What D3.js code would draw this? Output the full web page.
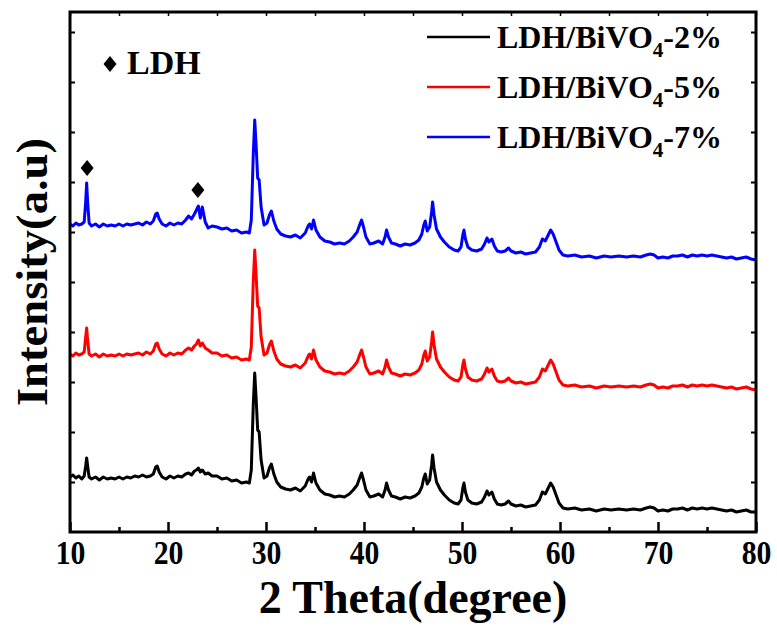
<!DOCTYPE html>
<html>
<head>
<meta charset="utf-8">
<script src="https://cdn.jsdelivr.net/npm/d3@7"></script>
<style>
  body { margin: 0; background: #fff; }
  text { font-family: "Liberation Serif", "Times New Roman", serif; font-weight: bold; fill: #000; }
</style>
</head>
<body>
<script>

// 2 theta positions (degree), shared by the three patterns
const twoTheta = [
  10.0, 10.3, 10.6, 10.9, 11.2, 11.45, 11.6, 11.7, 11.8, 11.95,
  12.2, 12.6, 13.0, 13.4, 13.8, 14.2, 14.6, 15.0, 15.4, 15.8,
  16.2, 16.6, 17.0, 17.4, 17.8, 18.2, 18.5, 18.75, 18.9, 19.1,
  19.4, 19.8, 20.2, 20.6, 21.0, 21.4, 21.8, 22.1, 22.4, 22.7,
  22.9, 23.1, 23.3, 23.5, 23.8, 24.1, 24.5, 25.0, 25.5, 26.0,
  26.5, 27.0, 27.5, 28.0, 28.3, 28.5, 28.7, 28.85, 29.0, 29.15,
  29.3, 29.5, 29.8, 30.1, 30.35, 30.55, 30.8, 31.1, 31.5, 32.0,
  32.5, 33.0, 33.5, 34.0, 34.3, 34.45, 34.65, 34.85, 35.1, 35.5,
  36.0, 36.5, 37.0, 37.5, 38.0, 38.5, 38.9, 39.3, 39.55, 39.75,
  39.95, 40.2, 40.6, 41.0, 41.5, 41.9, 42.15, 42.3, 42.5, 42.8,
  43.2, 43.7, 44.2, 44.7, 45.2, 45.6, 45.9, 46.1, 46.25, 46.45,
  46.7, 46.9, 47.0, 47.15, 47.4, 47.8, 48.2, 48.7, 49.2, 49.6,
  49.9, 50.1, 50.2, 50.35, 50.6, 51.0, 51.5, 52.0, 52.3, 52.55,
  52.75, 53.05, 53.3, 53.6, 54.0, 54.4, 54.75, 55.0, 55.5, 56.0,
  56.5, 57.0, 57.5, 57.9, 58.2, 58.5, 58.8, 59.05, 59.3, 59.6,
  59.9, 60.3, 60.8, 61.5, 62.2, 63.0, 63.7, 64.5, 65.2, 66.0,
  66.8, 67.5, 68.2, 68.8, 69.2, 69.6, 70.0, 70.5, 71.0, 71.5,
  72.0, 72.5, 73.0, 73.5, 74.0, 74.5, 75.0, 75.5, 76.0, 76.5,
  77.0, 77.5, 78.0, 78.5, 79.0, 79.5, 80.0
];

// intensity (a.u, already stacked)
const ldh2 = [
  55, 57, 54, 56, 53, 56, 66, 74, 66, 55,
  53, 55, 52, 55, 53, 54, 53, 55, 53, 55,
  54, 56, 55, 57, 55, 56, 58, 65, 66, 60,
  55, 53, 56, 54, 56, 55, 58, 59, 57, 61,
  62, 64, 60, 62, 58, 59, 56, 56, 53, 54,
  51, 52, 49, 50, 49, 62, 127, 159, 132, 102,
  100, 72, 54, 56, 64, 68, 58, 50, 45, 43,
  42, 44, 41, 46, 53, 55, 50, 59, 49, 42,
  38, 37, 35, 36, 35, 38, 42, 47, 54, 59,
  52, 42, 35, 36, 38, 35, 42, 49, 42, 36,
  35, 33, 35, 34, 36, 39, 45, 54, 58, 48,
  52, 67, 77, 64, 50, 42, 37, 32, 29, 28,
  32, 45, 49, 40, 32, 29, 28, 30, 35, 41,
  37, 40, 33, 28, 27, 28, 31, 28, 26, 27,
  25, 26, 27, 32, 40, 38, 44, 49, 45, 37,
  29, 24, 23, 24, 22, 23, 21, 23, 22, 23,
  22, 23, 22, 24, 25, 24, 21, 22, 21, 23,
  23, 24, 22, 24, 23, 24, 23, 24, 23, 22,
  21, 22, 20, 21, 22, 20, 20
];

const ldh5 = [
  178, 176, 179, 177, 178, 180, 195, 204, 192, 178,
  176, 178, 175, 178, 176, 177, 176, 178, 176, 178,
  177, 178, 179, 177, 180, 178, 181, 188, 189, 183,
  178, 176, 179, 177, 179, 178, 182, 184, 182, 186,
  188, 192, 186, 189, 184, 182, 179, 179, 176, 177,
  174, 175, 172, 173, 172, 185, 250, 282, 255, 226,
  224, 195, 177, 179, 187, 191, 181, 173, 168, 166,
  165, 167, 164, 169, 176, 178, 173, 182, 172, 165,
  161, 160, 158, 159, 158, 161, 165, 170, 177, 182,
  175, 165, 158, 159, 161, 158, 165, 172, 165, 159,
  158, 156, 158, 157, 159, 162, 168, 177, 181, 171,
  175, 190, 200, 187, 173, 165, 160, 155, 152, 151,
  155, 168, 172, 163, 155, 152, 151, 153, 158, 164,
  160, 163, 156, 151, 150, 151, 154, 151, 149, 150,
  148, 149, 150, 155, 163, 161, 167, 172, 168, 160,
  152, 147, 146, 147, 145, 146, 144, 146, 145, 146,
  145, 146, 145, 147, 148, 147, 144, 145, 144, 146,
  146, 147, 145, 147, 146, 147, 146, 147, 146, 145,
  144, 145, 143, 144, 145, 143, 142
];

const ldh7 = [
  308, 306, 309, 307, 308, 310, 330, 349, 330, 309,
  306, 308, 305, 308, 306, 307, 306, 308, 306, 308,
  307, 308, 309, 307, 310, 308, 311, 318, 319, 313,
  308, 306, 309, 307, 309, 308, 312, 316, 313, 318,
  322, 326, 314, 325, 310, 304, 306, 305, 303, 304,
  301, 302, 299, 300, 299, 312, 377, 412, 385, 354,
  352, 325, 307, 309, 317, 321, 311, 303, 298, 296,
  295, 297, 294, 299, 306, 308, 303, 312, 302, 295,
  291, 290, 288, 289, 288, 291, 295, 300, 307, 312,
  305, 295, 288, 289, 291, 288, 295, 302, 295, 289,
  288, 286, 288, 287, 289, 292, 298, 307, 311, 301,
  305, 320, 330, 317, 303, 295, 290, 285, 282, 281,
  285, 298, 302, 293, 285, 282, 281, 283, 288, 294,
  290, 293, 286, 281, 280, 281, 284, 281, 279, 280,
  278, 279, 280, 285, 293, 291, 297, 302, 298, 290,
  282, 277, 276, 277, 275, 276, 274, 276, 275, 276,
  275, 276, 275, 277, 278, 277, 274, 275, 274, 276,
  276, 277, 275, 277, 276, 277, 276, 277, 276, 275,
  274, 275, 273, 274, 275, 273, 272
];

const seriesValues = [ldh2, ldh5, ldh7];
const seriesColors = ['#000000', '#ff0000', '#0000ff'];
// legend label parts: before subscript, subscript, after
const seriesLabels = [
  ['LDH/BiVO', '4', '-2%'],
  ['LDH/BiVO', '4', '-5%'],
  ['LDH/BiVO', '4', '-7%']
];
const xMajorTicks = [10, 20, 30, 40, 50, 60, 70, 80];
const xMinorTicks = [15, 25, 35, 45, 55, 65, 75];
const yTicks = [50, 100, 150, 200, 250, 300, 350, 400, 450, 500];
// LDH reflections marked on the top pattern
const ldhMarkTheta = [11.75, 23.05];
const ldhMarkValue = [364, 342];

// global variable
var width = 777;
var height = 630;
var margin = { left: 70, right: 21, top: 12, bottom: 98 };
var x;
var y;
var svg;

svg = d3.select('body').append('svg')
  .attr('width', width)
  .attr('height', height)
  .style('background-color', 'white');

x = d3.scaleLinear()
  .domain([10, 80])
  .range([margin.left, width - margin.right]);

y = d3.scaleLinear()
  .domain([0, 520])
  .range([height - margin.bottom, margin.top]);

drawLines();
configureAxes();
drawMarkers();
drawLegend();
drawTitles();


function drawLines() {
  seriesValues.forEach((vals, k) => {
    const line = d3.line()
      .x((d, i) => x(twoTheta[i]))
      .y(d => y(d));
    svg.append('path')
      .datum(vals)
      .attr('fill', 'none')
      .attr('stroke', seriesColors[k])
      .attr('stroke-width', 3)
      .attr('stroke-linejoin', 'round')
      .attr('d', line);
  });
}

function configureAxes() {
  const bottom = height - margin.bottom;
  const right = width - margin.right;

  // major ticks on bottom, with labels
  const xAxis = svg.append('g')
    .attr('transform', 'translate(0,' + bottom + ')')
    .call(d3.axisBottom(x).tickValues(xMajorTicks).tickSize(-10).tickPadding(9).tickFormat(d3.format('d')));
  xAxis.select('.domain').remove();
  xAxis.selectAll('line').attr('stroke-width', 2.5);
  xAxis.selectAll('text')
    .attr('font-size', 33)
    .attr('transform', 'scale(0.9,1)');

  // minor ticks on bottom
  const xMinor = svg.append('g')
    .attr('transform', 'translate(0,' + bottom + ')')
    .call(d3.axisBottom(x).tickValues(xMinorTicks).tickSize(-5).tickFormat(''));
  xMinor.select('.domain').remove();
  xMinor.selectAll('line').attr('stroke-width', 2.5);

  // top, left, right ticks
  const xTop = svg.append('g')
    .attr('transform', 'translate(0,' + margin.top + ')')
    .call(d3.axisTop(x).tickValues(xMajorTicks.concat(xMinorTicks)).tickSize(-4).tickFormat(''));
  xTop.select('.domain').remove();
  xTop.selectAll('line').attr('stroke-width', 1.5);

  const yLeft = svg.append('g')
    .attr('transform', 'translate(' + margin.left + ',0)')
    .call(d3.axisLeft(y).tickValues(yTicks).tickSize(-5).tickFormat(''));
  yLeft.select('.domain').remove();
  yLeft.selectAll('line').attr('stroke-width', 2);

  const yRight = svg.append('g')
    .attr('transform', 'translate(' + right + ',0)')
    .call(d3.axisRight(y).tickValues(yTicks).tickSize(-5).tickFormat(''));
  yRight.select('.domain').remove();
  yRight.selectAll('line').attr('stroke-width', 2);

  // frame
  svg.append('rect')
    .attr('x', margin.left)
    .attr('y', margin.top)
    .attr('width', right - margin.left)
    .attr('height', bottom - margin.top)
    .attr('fill', 'none')
    .attr('stroke', '#000')
    .attr('stroke-width', 3);
}

function diamond(cx, cy, w, h) {
  return 'M' + cx + ',' + (cy - h / 2) + 'L' + (cx + w / 2) + ',' + cy +
    'L' + cx + ',' + (cy + h / 2) + 'L' + (cx - w / 2) + ',' + cy + 'Z';
}

function drawMarkers() {
  ldhMarkTheta.forEach((t, i) => {
    svg.append('path')
      .attr('d', diamond(x(t), y(ldhMarkValue[i]), 13, 16))
      .attr('fill', '#000');
  });

  // "◆ LDH" key
  svg.append('path')
    .attr('d', diamond(110, 64, 13, 16))
    .attr('fill', '#000');
  svg.append('text')
    .attr('x', 127)
    .attr('y', 74)
    .attr('font-size', 34)
    .text('LDH');
}

function drawLegend() {
  seriesLabels.forEach((parts, i) => {
    const ly = 37 + i * 50;
    svg.append('line')
      .attr('x1', 427).attr('x2', 490)
      .attr('y1', ly).attr('y2', ly)
      .attr('stroke', seriesColors[i])
      .attr('stroke-width', 2.6);
    const t = svg.append('text')
      .attr('x', 497)
      .attr('y', ly + 11)
      .attr('font-size', 32);
    t.append('tspan').text(parts[0]);
    t.append('tspan').attr('font-size', 21).attr('dy', 9).text(parts[1]);
    t.append('tspan').attr('dy', -9).text(parts[2]);
  });
}

function drawTitles() {
  svg.append('text')
    .attr('x', 413)
    .attr('y', 613)
    .attr('text-anchor', 'middle')
    .attr('font-size', 46)
    .text('2 Theta(degree)');

  svg.append('text')
    .attr('transform', 'translate(47,272) rotate(-90) scale(1.06,1)')
    .attr('text-anchor', 'middle')
    .attr('font-size', 44)
    .text('Intensity(a.u)');
}
</script>
</body>
</html>
